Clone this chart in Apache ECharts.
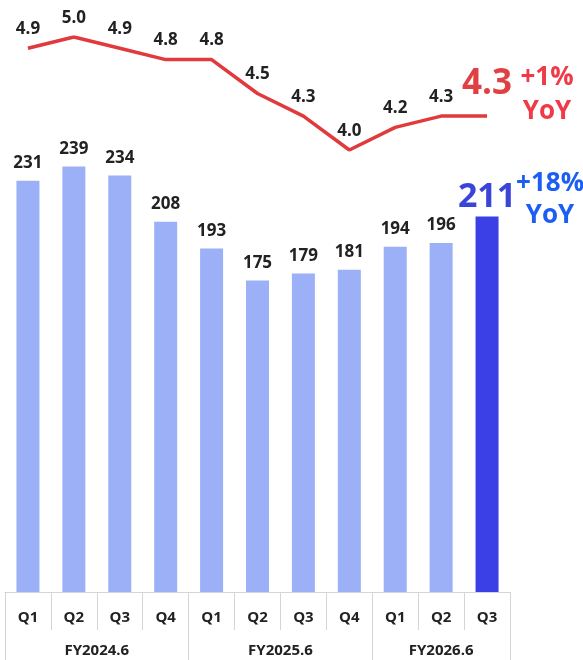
<!DOCTYPE html>
<html>
<head>
<meta charset="utf-8">
<script src="https://cdn.jsdelivr.net/npm/echarts@6/dist/echarts.min.js"></script>
<style>
  html, body { margin: 0; padding: 0; background: #ffffff; }
  #chart { width: 583px; height: 660px; }
</style>
</head>
<body>
<div id="chart"></div>
<script>
const quarters = ['Q1','Q2','Q3','Q4','Q1','Q2','Q3','Q4','Q1','Q2','Q3'];
const fiscalYears = ['FY2024.6','FY2025.6','FY2026.6'];
const fyBoundaries = [0, 4, 8, 11];
const fyCenters = [2, 6, 9.5];
const barValues = [231,239,234,208,193,175,179,181,194,196,211];
const lineValues = [4.9,5.0,4.9,4.8,4.8,4.5,4.3,4.0,4.2,4.3,4.3];
const barYoY = '+18%\nYoY';
const lineYoY = '+1%\nYoY';

const FONT = '"Open Sans", sans-serif';
const last = barValues.length - 1;

const barData = barValues.map((v, i) => i === last ? {
  value: v,
  itemStyle: { color: '#3b40e6' },
  label: { fontSize: 34, color: '#3a44d8', distance: 2 }
} : v);

const lineData = lineValues.map((v, i) => i === last ? {
  value: v,
  label: { fontSize: 35, color: '#e04042', distance: 14 }
} : v);

const chart = echarts.init(document.getElementById('chart'));
chart.setOption({
  animation: false,
  textStyle: { fontFamily: FONT },
  grid: [
    { left: 5, right: 73, top: 147, bottom: 68 },
    { left: 5, right: 73, top: 37, height: 113 }
  ],
  xAxis: [
    {
      type: 'category', gridIndex: 0, data: quarters,
      axisLine: { lineStyle: { color: '#d4d4d4', width: 1 } },
      axisTick: { show: true, interval: 0, length: 38, lineStyle: { color: '#d4d4d4' } },
      axisLabel: { interval: 0, margin: 18, fontFamily: FONT, fontSize: 15, fontWeight: 'bold', color: '#222' }
    },
    {
      type: 'value', gridIndex: 0, position: 'bottom', min: 0, max: 11,
      axisLine: { show: false },
      splitLine: { show: false },
      axisTick: { show: true, customValues: fyBoundaries, length: 68, lineStyle: { color: '#d4d4d4' } },
      axisLabel: {
        customValues: fyCenters, margin: 51, fontFamily: FONT, fontSize: 15, fontWeight: 'bold', color: '#222',
        formatter: function (v) { const k = fyCenters.indexOf(v); return k >= 0 ? fiscalYears[k] : ''; }
      }
    },
    {
      type: 'category', gridIndex: 1, data: quarters, show: false
    }
  ],
  yAxis: [
    { type: 'value', gridIndex: 0, min: 0, max: 250, show: false, splitLine: { show: false } },
    { type: 'value', gridIndex: 1, min: 4, max: 5, show: false, splitLine: { show: false } }
  ],
  series: [
    {
      type: 'bar', xAxisIndex: 0, yAxisIndex: 0, data: barData, barWidth: 23,
      itemStyle: { color: '#9bb0f6' },
      label: { show: true, position: 'top', distance: 9, fontFamily: FONT, fontSize: 17, fontWeight: 'bold', color: '#222' }
    },
    {
      type: 'line', xAxisIndex: 2, yAxisIndex: 1, data: lineData,
      showSymbol: true, symbol: 'circle', symbolSize: 1,
      itemStyle: { color: 'rgba(0,0,0,0)' },
      lineStyle: { color: '#e03a3c', width: 3.5 },
      label: { show: true, position: 'top', distance: 10, fontFamily: FONT, fontSize: 17, fontWeight: 'bold', color: '#222',
               formatter: p => p.value.toFixed(1) }
    }
  ]
});

const barPt = chart.convertToPixel({ xAxisIndex: 0, yAxisIndex: 0 }, [last, barValues[last]]);
const linePt = chart.convertToPixel({ xAxisIndex: 2, yAxisIndex: 1 }, [last, lineValues[last]]);
chart.setOption({
  graphic: [
    {
      type: 'text', x: barPt[0] + 63, y: barPt[1] - 17,
      style: { text: barYoY, fill: '#1c5ef4', font: 'bold 26px ' + FONT, lineHeight: 32, align: 'center', verticalAlign: 'middle' }
    },
    {
      type: 'text', x: linePt[0] + 60, y: linePt[1] - 22,
      style: { text: lineYoY, fill: '#f03a48', font: 'bold 26px ' + FONT, lineHeight: 34, align: 'center', verticalAlign: 'middle' }
    }
  ]
});
</script>
</body>
</html>
